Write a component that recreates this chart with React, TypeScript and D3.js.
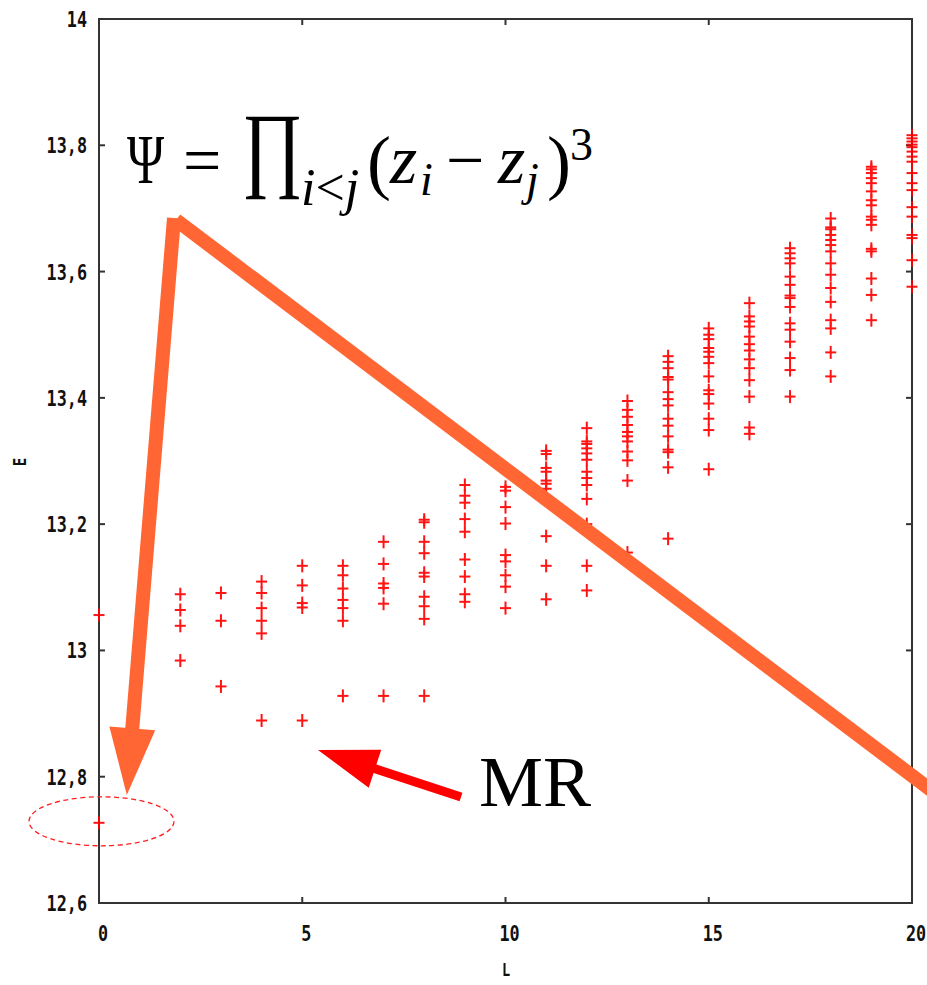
import React from "react";
import * as d3 from "d3";

// Energy spectrum E(L) per angular momentum L
const E_L0 = [13.056, 12.727];
const E_L2 = [13.089, 13.064, 13.039, 12.984];
const E_L3 = [13.091, 13.047, 12.943];
const E_L4 = [13.109, 13.091, 13.067, 13.047, 13.027, 12.889];
const E_L5 = [13.134, 13.103, 13.075, 13.068, 12.889];
const E_L6 = [13.134, 13.119, 13.098, 13.08, 13.067, 13.047, 12.928];
const E_L7 = [13.172, 13.137, 13.106, 13.099, 13.074, 12.928];
const E_L8 = [13.207, 13.203, 13.172, 13.154, 13.123, 13.117, 13.085, 13.07, 13.05, 12.928];
const E_L9 = [13.262, 13.245, 13.234, 13.208, 13.188, 13.144, 13.117, 13.089, 13.077];
const E_L10 = [13.288, 13.259, 13.253, 13.227, 13.201, 13.151, 13.141, 13.119, 13.101, 13.067];
const E_L11 = [13.316, 13.311, 13.289, 13.283, 13.269, 13.264, 13.256, 13.181, 13.134, 13.081];
const E_L12 = [13.352, 13.331, 13.327, 13.32, 13.312, 13.302, 13.283, 13.273, 13.262, 13.24, 13.2, 13.134, 13.095];
const E_L13 = [13.395, 13.381, 13.37, 13.357, 13.346, 13.339, 13.331, 13.315, 13.301, 13.269, 13.155];
const E_L14 = [13.466, 13.457, 13.447, 13.433, 13.429, 13.409, 13.398, 13.388, 13.367, 13.356, 13.339, 13.318, 13.314, 13.29, 13.177];
const E_L15 = [13.51, 13.5, 13.493, 13.479, 13.473, 13.465, 13.455, 13.434, 13.412, 13.406, 13.391, 13.367, 13.349, 13.287];
const E_L16 = [13.55, 13.529, 13.521, 13.513, 13.497, 13.485, 13.475, 13.461, 13.447, 13.428, 13.402, 13.353, 13.343];
const E_L17 = [13.637, 13.629, 13.621, 13.613, 13.592, 13.579, 13.562, 13.558, 13.544, 13.518, 13.508, 13.489, 13.463, 13.444, 13.402];
const E_L18 = [13.684, 13.67, 13.667, 13.658, 13.65, 13.642, 13.632, 13.613, 13.595, 13.574, 13.552, 13.523, 13.51, 13.472, 13.434];
const E_L19 = [13.766, 13.762, 13.756, 13.748, 13.74, 13.727, 13.713, 13.705, 13.687, 13.682, 13.674, 13.636, 13.632, 13.589, 13.563, 13.523];
const E_L20 = [13.816, 13.811, 13.806, 13.801, 13.797, 13.79, 13.782, 13.774, 13.756, 13.74, 13.729, 13.702, 13.687, 13.658, 13.653, 13.618, 13.576];

const spectrum: [number, number[]][] = [
  [0, E_L0], [2, E_L2], [3, E_L3], [4, E_L4], [5, E_L5], [6, E_L6], [7, E_L7],
  [8, E_L8], [9, E_L9], [10, E_L10], [11, E_L11], [12, E_L12], [13, E_L13],
  [14, E_L14], [15, E_L15], [16, E_L16], [17, E_L17], [18, E_L18], [19, E_L19], [20, E_L20],
];

const xTicks = [0, 5, 10, 15, 20];
const yTicks = [12.6, 12.8, 13, 13.2, 13.4, 13.6, 13.8, 14];

// Ground state at L = 0
const groundState = { L: 0, E: 12.727 };

const W = 927;
const H = 985;

const locale = d3.formatLocale({ decimal: ",", thousands: ".", grouping: [3], currency: ["", ""] });
const fmt = locale.format(".3~r");

const tickFont = "'DejaVu Sans Mono', monospace";
const mathFont = "'Liberation Serif', 'DejaVu Serif', serif";

export default function App() {
  const x = d3.scaleLinear().domain([0, 20]).range([99, 912]);
  const y = d3.scaleLinear().domain([12.6, 14]).range([903, 19]);
  const [x0, x1] = x.range();
  const [y0, y1] = y.range();

  const points = spectrum.flatMap(([L, es]) => es.map((E) => ({ L, E })));

  const hw = 5.5;
  const hh = 6.5;

  // Big orange arrow: shaft + head, plus the long diagonal stroke
  const orange = "#ff6633";
  const vtx = [174, 220];
  const shaftEnd = [132, 732];
  const dir = [shaftEnd[0] - vtx[0], shaftEnd[1] - vtx[1]];
  const len = Math.hypot(dir[0], dir[1]);
  const u = [dir[0] / len, dir[1] / len];
  const p = [u[1], -u[0]];
  const tip = [vtx[0] + u[0] * 577, vtx[1] + u[1] * 577];
  const headBase = [vtx[0] + u[0] * 510, vtx[1] + u[1] * 510];
  const hwHead = 23;
  const headPts = [
    tip,
    [headBase[0] + p[0] * hwHead, headBase[1] + p[1] * hwHead],
    [headBase[0] - p[0] * hwHead, headBase[1] - p[1] * hwHead],
  ];

  // Red MR arrow
  const mrTail = [461, 797];
  const mrTip = [318, 750];
  const md = [mrTip[0] - mrTail[0], mrTip[1] - mrTail[1]];
  const ml = Math.hypot(md[0], md[1]);
  const mu = [md[0] / ml, md[1] / ml];
  const mp = [mu[1], -mu[0]];
  const mrBase = [mrTip[0] - mu[0] * 60, mrTip[1] - mu[1] * 60];
  const mrHead = [
    mrTip,
    [mrBase[0] + mp[0] * 20, mrBase[1] + mp[1] * 20],
    [mrBase[0] - mp[0] * 20, mrBase[1] - mp[1] * 20],
  ];

  const gx = x(groundState.L);
  const gy = y(groundState.E);

  return (
    <svg
      width={W}
      height={H}
      viewBox={`0 0 ${W} ${H}`}
      style={{ position: "absolute", left: 0, top: 0, background: "#fff" }}
    >
      <rect x={0} y={0} width={W} height={H} fill="#fff" />

      {/* ticks */}
      <g stroke="#333" strokeWidth={2}>
        {yTicks.map((t) => (
          <g key={"yt" + t}>
            <line x1={x0} x2={x0 + 6} y1={y(t)} y2={y(t)} />
            <line x1={x1} x2={x1 - 6} y1={y(t)} y2={y(t)} />
          </g>
        ))}
        {xTicks.map((t) => (
          <g key={"xt" + t}>
            <line x1={x(t)} x2={x(t)} y1={y0} y2={y0 - 6} />
            <line x1={x(t)} x2={x(t)} y1={y1} y2={y1 + 6} />
          </g>
        ))}
      </g>

      {/* frame */}
      <rect x={x0} y={y1} width={x1 - x0} height={y0 - y1} fill="none" stroke="#333" strokeWidth={2} />

      {/* tick labels */}
      <g fontFamily={tickFont} fontWeight="bold" fontSize={21} fill="#111">
        {yTicks.map((t) => (
          <text
            key={"yl" + t}
            transform={`translate(87,${y(t) + 8}) scale(0.8,1)`}
            textAnchor="end"
          >
            {fmt(t)}
          </text>
        ))}
        {xTicks.map((t) => (
          <text
            key={"xl" + t}
            transform={`translate(${x(t) + 4},${y0 + 38}) scale(0.8,1)`}
            textAnchor="middle"
          >
            {fmt(t)}
          </text>
        ))}
        <text transform={`translate(506,976) scale(0.8,1)`} textAnchor="middle" fontSize={17}>
          L
        </text>
        <text transform={`translate(26,${(y0 + y1) / 2 + 1}) rotate(-90) scale(0.8,1)`} textAnchor="middle" fontSize={17}>
          E
        </text>
      </g>

      {/* spectrum points */}
      <g stroke="#ff0000" strokeWidth={2} opacity={0.92}>
        {points.map((d, i) => {
          const cx = x(d.L);
          const cy = y(d.E);
          return (
            <g key={i}>
              <line x1={cx - hw} x2={cx + hw} y1={cy} y2={cy} />
              <line x1={cx} x2={cx} y1={cy - hh} y2={cy + hh} />
            </g>
          );
        })}
      </g>

      {/* dashed ellipse around the ground state */}
      <ellipse
        cx={gx + 2.5}
        cy={gy - 1.5}
        rx={72.5}
        ry={24.5}
        fill="none"
        stroke="#ff2020"
        strokeWidth={1.3}
        strokeDasharray="5 3.5"
      />

      {/* orange arrow */}
      <line x1={vtx[0]} y1={vtx[1] - 2} x2={headBase[0] + u[0] * 4} y2={headBase[1] + u[1] * 4} stroke={orange} strokeWidth={14} />
      <polygon points={headPts.map((q) => q.join(",")).join(" ")} fill={orange} />
      <line x1={vtx[0] + 2} y1={vtx[1]} x2={960} y2={vtx[1] + 0.755 * (960 - vtx[0] - 2)} stroke={orange} strokeWidth={14} />

      {/* MR arrow */}
      <line x1={mrTail[0]} y1={mrTail[1]} x2={mrBase[0] + mu[0] * 4} y2={mrBase[1] + mu[1] * 4} stroke="#ff0000" strokeWidth={9} />
      <polygon points={mrHead.map((q) => q.join(",")).join(" ")} fill="#ff0000" />
      <text x={479} y={806} fontFamily={mathFont} fontSize={72} fill="#000">
        MR
      </text>

      {/* wavefunction */}
      <g fontFamily={mathFont} fill="#000">
        <text transform="translate(127,183) scale(0.72,1)" fontSize={70}>Ψ</text>
        <text x={183} y={183} fontSize={68}>=</text>
        <text transform="translate(242,179) scale(0.78,1)" fontSize={95}>∏</text>
        <text x={301} y={205} fontSize={52}>
          <tspan fontStyle="italic">i</tspan>
          <tspan>&lt;</tspan>
          <tspan fontStyle="italic">j</tspan>
        </text>
        <text x={367} y={186} fontSize={72}>(</text>
        <text x={390} y={183} fontSize={70} fontStyle="italic">z</text>
        <text x={420} y={195} fontSize={46} fontStyle="italic">i</text>
        <text x={446} y={183} fontSize={68}>−</text>
        <text x={498} y={183} fontSize={70} fontStyle="italic">z</text>
        <text x={526} y={195} fontSize={46} fontStyle="italic">j</text>
        <text x={547} y={186} fontSize={72}>)</text>
        <text x={570} y={160} fontSize={46}>3</text>
      </g>
    </svg>
  );
}
